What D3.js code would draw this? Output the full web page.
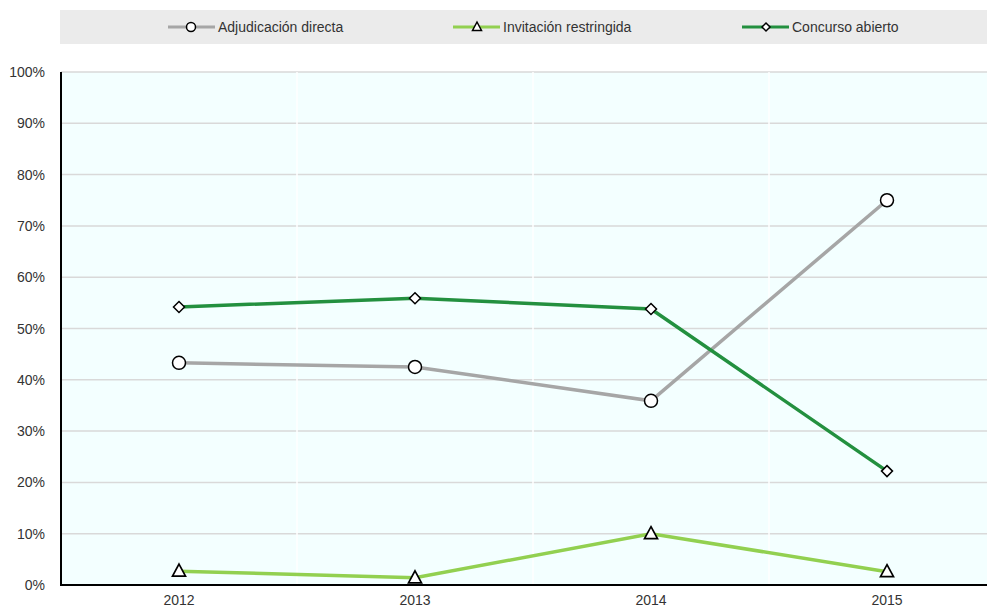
<!DOCTYPE html>
<html>
<head>
<meta charset="utf-8">
<script src="https://cdn.jsdelivr.net/npm/d3@7"></script>
<style>
  body { margin: 0; background: #fff; }
  text { font-family: "Liberation Sans Narrow", "Arial Narrow", "Liberation Sans", sans-serif; fill: #333; }
</style>
</head>
<body>
<div id="chart"></div>
<script>
var years = ["2012", "2013", "2014", "2015"];
var seriesNames = ["Adjudicación directa", "Invitación restringida", "Concurso abierto"];
var adjudicacion = [43.3, 42.5, 35.9, 75.0];
var invitacion = [2.7, 1.4, 10.0, 2.6];
var concurso = [54.2, 55.9, 53.8, 22.2];
var yTicks = [0, 10, 20, 30, 40, 50, 60, 70, 80, 90, 100];

var colors = ["#a6a6a6", "#92d050", "#23903f"];
var markers = ["circle", "triangle", "diamond"];

var width = 987, height = 608;
var margin = {left: 61, top: 72, bottom: 23};
var plotRight = 1005; // plot runs past the picture edge
var plotBottom = height - margin.bottom;

var svg = d3.select("#chart").append("svg")
  .attr("width", width).attr("height", height);

// legend band
svg.append("rect").attr("x", 60).attr("y", 10).attr("width", 927).attr("height", 34).attr("fill", "#ebebeb");

var xScale = d3.scaleBand().domain(years).range([margin.left, plotRight]);
var yScale = d3.scaleLinear().domain([0, 100]).range([plotBottom, margin.top]);

svg.append("rect")
  .attr("x", margin.left).attr("y", margin.top)
  .attr("width", plotRight - margin.left).attr("height", plotBottom - margin.top)
  .attr("fill", "#f3ffff");

// horizontal gridlines
svg.selectAll(".hgrid").data(yTicks.slice(1)).enter().append("line")
  .attr("x1", margin.left).attr("x2", plotRight)
  .attr("y1", function(d){ return yScale(d); }).attr("y2", function(d){ return yScale(d); })
  .attr("stroke", "#d9d9d9").attr("stroke-width", 1.5);

// vertical white gridlines between categories
svg.selectAll(".vgrid").data(years.slice(1)).enter().append("line")
  .attr("x1", function(d){ return xScale(d); }).attr("x2", function(d){ return xScale(d); })
  .attr("y1", margin.top).attr("y2", plotBottom)
  .attr("stroke", "#ffffff").attr("stroke-width", 1.5);

// axes
svg.append("line").attr("x1", margin.left).attr("x2", margin.left)
  .attr("y1", margin.top).attr("y2", plotBottom).attr("stroke", "#000").attr("stroke-width", 2);
svg.append("line").attr("x1", margin.left - 1).attr("x2", plotRight)
  .attr("y1", plotBottom).attr("y2", plotBottom).attr("stroke", "#000").attr("stroke-width", 2);

svg.selectAll(".ylab").data(yTicks).enter().append("text")
  .attr("x", 45).attr("y", function(d){ return yScale(d) + 5; })
  .attr("text-anchor", "end").attr("font-size", 14)
  .text(function(d){ return d + "%"; });

svg.selectAll(".xlab").data(years).enter().append("text")
  .attr("x", function(d){ return xScale(d) + xScale.bandwidth() / 2; })
  .attr("y", plotBottom + 20)
  .attr("text-anchor", "middle").attr("font-size", 14)
  .text(function(d){ return d; });

function drawMarker(g, type, x, y) {
  if (type == "circle") {
    g.append("circle").attr("cx", x).attr("cy", y).attr("r", 6.5)
      .attr("fill", "#fff").attr("stroke", "#000").attr("stroke-width", 1.5);
  } else if (type == "triangle") {
    g.append("path")
      .attr("d", "M" + x + "," + (y - 7) + "L" + (x + 6.5) + "," + (y + 5) + "L" + (x - 6.5) + "," + (y + 5) + "Z")
      .attr("fill", "#fff").attr("stroke", "#000").attr("stroke-width", 1.7);
  } else {
    g.append("path")
      .attr("d", "M" + x + "," + (y - 5.5) + "L" + (x + 5.5) + "," + y + "L" + x + "," + (y + 5.5) + "L" + (x - 5.5) + "," + y + "Z")
      .attr("fill", "#fff").attr("stroke", "#000").attr("stroke-width", 1.5);
  }
}

var allSeries = [adjudicacion, invitacion, concurso];
var line = d3.line()
  .x(function(d, i){ return xScale(years[i]) + xScale.bandwidth() / 2; })
  .y(function(d){ return yScale(d); });

allSeries.forEach(function(vals, s) {
  var g = svg.append("g");
  g.append("path").datum(vals).attr("d", line)
    .attr("fill", "none").attr("stroke", colors[s]).attr("stroke-width", 3.5);
  vals.forEach(function(v, i) {
    drawMarker(g, markers[s], xScale(years[i]) + xScale.bandwidth() / 2, yScale(v));
  });
});

// legend items
var legendX = [168, 453, 742];
seriesNames.forEach(function(name, s) {
  var g = svg.append("g");
  g.append("line").attr("x1", legendX[s]).attr("x2", legendX[s] + 47)
    .attr("y1", 27).attr("y2", 27).attr("stroke", colors[s]).attr("stroke-width", 3);
  var mg = g.append("g");
  if (markers[s] == "circle") {
    mg.append("circle").attr("cx", legendX[s] + 23).attr("cy", 27).attr("r", 4.5)
      .attr("fill", "#fff").attr("stroke", "#000").attr("stroke-width", 1.5);
  } else if (markers[s] == "triangle") {
    var x = legendX[s] + 24;
    mg.append("path").attr("d", "M" + x + ",22L" + (x + 4.5) + ",30.5L" + (x - 4.5) + ",30.5Z")
      .attr("fill", "#fff").attr("stroke", "#000").attr("stroke-width", 1.5);
  } else {
    var x2 = legendX[s] + 24;
    mg.append("path").attr("d", "M" + x2 + ",23L" + (x2 + 4) + ",27L" + x2 + ",31L" + (x2 - 4) + ",27Z")
      .attr("fill", "#fff").attr("stroke", "#000").attr("stroke-width", 1.5);
  }
  g.append("text").attr("x", legendX[s] + 50).attr("y", 32).attr("font-size", 14).text(name);
});
</script>
</body>
</html>
